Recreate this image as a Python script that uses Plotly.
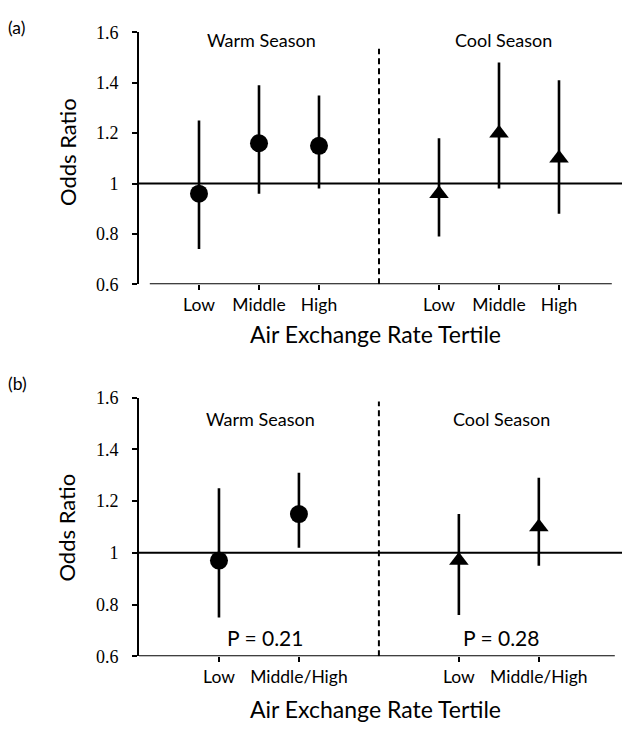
import plotly.graph_objects as go

# ---------------- data ----------------
tertiles_a = ["Low", "Middle", "High"]
warm_or_a = [0.96, 1.16, 1.15]
warm_lo_a = [0.74, 0.96, 0.98]
warm_hi_a = [1.25, 1.39, 1.35]
cool_or_a = [0.96, 1.20, 1.10]
cool_lo_a = [0.79, 0.98, 0.88]
cool_hi_a = [1.18, 1.48, 1.41]

tertiles_b = ["Low", "Middle/High"]
warm_or_b = [0.97, 1.15]
warm_lo_b = [0.75, 1.02]
warm_hi_b = [1.25, 1.31]
cool_or_b = [0.97, 1.10]
cool_lo_b = [0.76, 0.95]
cool_hi_b = [1.15, 1.29]

p_values = ["P = 0.21", "P = 0.28"]
y_ticks = [0.6, 0.8, 1.0, 1.2, 1.4, 1.6]

W, H = 628, 738
SANS = "Lato"
SERIF = "Liberation Serif"


def err(est, lo, hi):
    return ([h - e for e, h in zip(est, hi)], [e - l for e, l in zip(est, lo)])


fig = go.Figure()


def add_panel(xref, yref, labels, w_or, w_lo, w_hi, c_or, c_lo, c_hi):
    n = len(labels)
    wx = list(range(1, n + 1))
    cx = list(range(n + 2, 2 * n + 2))
    for xs, est, lo, hi, sym, sz in [(wx, w_or, w_lo, w_hi, "circle", 18),
                                      (cx, c_or, c_lo, c_hi, "triangle-up", 17)]:
        up, dn = err(est, lo, hi)
        fig.add_trace(go.Scatter(
            x=xs, y=est, mode="markers", xaxis=xref, yaxis=yref,
            marker=dict(symbol=sym, size=sz, color="black", line=dict(width=0)),
            error_y=dict(type="data", array=up, arrayminus=dn, symmetric=False,
                         color="black", thickness=2.6, width=0),
            showlegend=False, hoverinfo="skip"))
    return wx + cx, n + 1


ticks_a, mid_a = add_panel("x", "y", tertiles_a, warm_or_a, warm_lo_a, warm_hi_a,
                           cool_or_a, cool_lo_a, cool_hi_a)
ticks_b, mid_b = add_panel("x2", "y2", tertiles_b, warm_or_b, warm_lo_b, warm_hi_b,
                           cool_or_b, cool_lo_b, cool_hi_b)

xdom = [139 / W, 622 / W]
ydom_a = [1 - 282 / H, 1 - 23 / H]
ydom_b = [1 - 664.3 / H, 1 - 398.5 / H]

xcommon = dict(showgrid=False, zeroline=False, showline=False, ticks="outside",
               ticklen=5, tickwidth=1.5, tickcolor="black",
               tickfont=dict(family=SANS, size=17.5, color="black"))
ycommon = dict(range=[0.6, 1.6], tickvals=y_ticks, showgrid=False, zeroline=False,
               showline=True, linecolor="black", linewidth=2, ticks="outside",
               ticklen=5, tickwidth=1.5, tickcolor="black",
               tickfont=dict(family=SERIF, size=18, color="black"),
               ticklabelstandoff=10)

fig.update_layout(
    width=W, height=H, margin=dict(l=0, r=0, t=0, b=0),
    paper_bgcolor="white", plot_bgcolor="white",
    xaxis=dict(domain=xdom, range=[0, 8.05], anchor="y", tickvals=ticks_a,
               ticktext=tertiles_a * 2, **xcommon),
    yaxis=dict(domain=ydom_a, anchor="x", **ycommon),
    xaxis2=dict(domain=xdom, range=[0, 6.04], anchor="y2", tickvals=ticks_b,
                ticktext=tertiles_b * 2, **xcommon),
    yaxis2=dict(domain=ydom_b, anchor="x2", **ycommon),
)

shapes = []
# panel a
shapes.append(dict(type="line", xref="x", yref="y", x0=0.18, x1=7.88, y0=0.6, y1=0.6,
                   line=dict(color="black", width=2)))
shapes.append(dict(type="line", xref="x", yref="y", x0=0, x1=8.05, y0=1, y1=1,
                   line=dict(color="black", width=2)))
shapes.append(dict(type="line", xref="x", yref="y", x0=mid_a, x1=mid_a, y0=0.6, y1=1.535,
                   line=dict(color="black", width=2, dash="6px,4px")))
# panel b
shapes.append(dict(type="line", xref="x2", yref="y2", x0=0, x1=5.95, y0=0.6, y1=0.6,
                   line=dict(color="black", width=2)))
shapes.append(dict(type="line", xref="x2", yref="y2", x0=0, x1=6.04, y0=1, y1=1,
                   line=dict(color="black", width=2)))
shapes.append(dict(type="line", xref="x2", yref="y2", x0=mid_b, x1=mid_b, y0=0.6, y1=1.585,
                   line=dict(color="black", width=2, dash="6px,4px")))
fig.update_layout(shapes=shapes)

ann = []
for lab, yc in [("(a)", 18), ("(b)", 384)]:
    ann.append(dict(text=lab, xref="paper", yref="paper", x=6 / W, y=1 - yc / H,
                    xanchor="left", yanchor="middle", showarrow=False,
                    font=dict(family=SANS, size=17.5, color="black")))
for yc in [146, 532]:
    ann.append(dict(text="Odds Ratio", xref="paper", yref="paper", x=67 / W, y=1 - yc / H,
                    textangle=-90, xanchor="center", yanchor="middle", showarrow=False,
                    font=dict(family=SANS, size=22, color="black")))
for yc in [333, 718]:
    ann.append(dict(text="Air Exchange Rate Tertile", xref="paper", yref="paper",
                    x=375 / W, y=1 - yc / H, xanchor="center", yanchor="middle",
                    showarrow=False, font=dict(family=SANS, size=23, color="black")))
# season labels
for xr, yr, xw, xc, ys in [("x", "y", 2.04, 6.07, 1.568), ("x2", "y2", 1.525, 4.53, 1.516)]:
    ann.append(dict(text="Warm Season", xref=xr, yref=yr, x=xw, y=ys, showarrow=False,
                    xanchor="center", yanchor="middle",
                    font=dict(family=SANS, size=18, color="black")))
    ann.append(dict(text="Cool Season", xref=xr, yref=yr, x=xc, y=ys, showarrow=False,
                    xanchor="center", yanchor="middle",
                    font=dict(family=SANS, size=18, color="black")))
for txt, xp in zip(p_values, [1.575, 4.525]):
    ann.append(dict(text=txt, xref="x2", yref="y2", x=xp, y=0.673, showarrow=False,
                    xanchor="center", yanchor="middle",
                    font=dict(family=SANS, size=21, color="black")))
fig.update_layout(annotations=ann)

fig.write_html("out.html", config={"displayModeBar": False},
               post_script="document.body.style.margin='0px';")
